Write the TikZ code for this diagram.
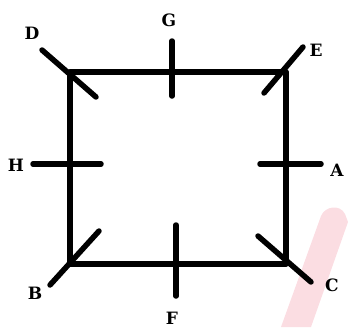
\documentclass[tikz,border=0pt]{standalone}
\usepackage{fontspec}
\setmainfont{DejaVu Serif}
\definecolor{wm}{RGB}{251,221,226}
\begin{document}
\begin{tikzpicture}[x=1pt,y=-1pt,
  edge/.style={line width=5.5pt, line cap=round, line join=round},
  lbl/.style={font=\fontsize{17}{17}\selectfont\bfseries, inner sep=0pt}]
\useasboundingbox (0,0) rectangle (348,327);
% watermark
\fill[wm] (281,327) -- (321,216) .. controls (325,206) and (340,204) .. (345,214) -- (348,222) -- (311,327) -- cycle;
% corners
\coordinate (tl) at (70,72);
\coordinate (tr) at (286,72);
\coordinate (br) at (286,264);
\coordinate (bl) at (70,264);
\draw[edge] (tl) -- (tr) -- (br) -- (bl) -- cycle;
% tick end points
\coordinate (d1) at (42,50);   \coordinate (d2) at (96,97);
\coordinate (g1) at (172,41);  \coordinate (g2) at (172,96);
\coordinate (e1) at (264,93);  \coordinate (e2) at (303,47);
\coordinate (h1) at (33,164);  \coordinate (h2) at (101,164);
\coordinate (a1) at (260,164); \coordinate (a2) at (321,164);
\coordinate (b1) at (50,285);  \coordinate (b2) at (99,231);
\coordinate (f1) at (176,225); \coordinate (f2) at (176,296);
\coordinate (c1) at (258,236); \coordinate (c2) at (311,282);
\draw[edge] (d1) -- (d2);
\draw[edge] (g1) -- (g2);
\draw[edge] (e1) -- (e2);
\draw[edge] (h1) -- (h2);
\draw[edge] (a1) -- (a2);
\draw[edge] (b1) -- (b2);
\draw[edge] (f1) -- (f2);
\draw[edge] (c1) -- (c2);
% labels
\node[lbl] (D) at (32,33) {D};
\node[lbl] (G) at (169,20) {G};
\node[lbl] (E) at (316,50) {E};
\node[lbl] (H) at (16,165) {H};
\node[lbl] (A) at (337,170) {A};
\node[lbl] (B) at (35,293) {B};
\node[lbl] (C) at (332,285) {C};
\node[lbl] (F) at (172,318) {F};
\end{tikzpicture}
\end{document}
